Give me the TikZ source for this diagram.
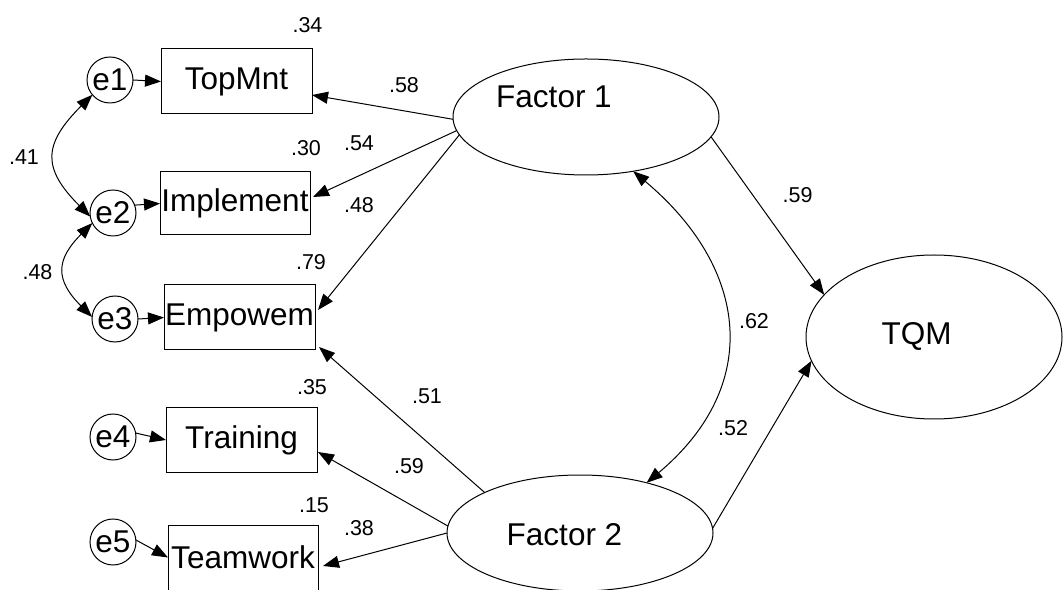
\documentclass[tikz,border=0pt]{standalone}
\usepackage{fontspec}
\setmainfont{Liberation Sans}
\usetikzlibrary{shapes.geometric,arrows.meta,calc}
\newcommand\bigfnt{\fontsize{31.5}{37}\selectfont}
\newcommand\lblfnt{\fontsize{21.5}{25}\selectfont}
\begin{document}
\begin{tikzpicture}[x=1pt,y=1pt,
  every node/.style={inner sep=0pt,outer sep=0pt},
  obs/.style={draw,line width=1pt,rectangle,minimum width=151pt,minimum height=65pt,font=\bigfnt},
  err/.style={draw,line width=1pt,circle,minimum size=46pt,font=\bigfnt},
  lat/.style={draw,line width=1pt,ellipse,minimum width=266pt,minimum height=116pt},
  ttl/.style={anchor=base,font=\bigfnt},
  lbl/.style={font=\lblfnt},
  arr/.style={line width=1pt,-{Triangle[length=16pt,width=12pt]}},
  dbl/.style={line width=1pt,{Triangle[length=16pt,width=12pt]}-{Triangle[length=16pt,width=12pt]}}
]
\useasboundingbox (0,0) rectangle (1064,589);
\fill[white] (0,0) rectangle (1064,589);
\clip (0,0) rectangle (1064,589);

% observed variables
\node[obs] (top) at (236.5,507.5) {TopMnt};
\node[obs,minimum width=150pt,minimum height=63pt] (imp) at (235,385.5) {Implement};
\node[obs] (emp) at (239.5,271.5) {Empowem};
\node[obs,minimum height=64pt] (trn) at (241.5,149) {Training};
\node[obs,minimum width=150pt] (tmw) at (243,31.5) {Teamwork};

% errors
\node[err] (e1) at (110,509) {e1};
\node[err] (e2) at (113,376) {e2};
\node[err] (e3) at (115,270) {e3};
\node[err] (e4) at (113,152) {e4};
\node[err] (e5) at (113,47) {e5};

% latent variables
\node[lat] (f1) at (586,472) {};
\node[lat] (f2) at (580,56) {};
\node[lat,minimum width=256pt,minimum height=164pt] (tqm) at (934,252) {};
\node[ttl] (f1t) at (554,481) {Factor 1};
\node[ttl] (f2t) at (564.5,44) {Factor 2};
\node[ttl] (tqmt) at (916.5,244) {TQM};

% loadings
\draw[arr] (f1.181) -- ($(top.east)+(0,-13.5)$);
\draw[arr] (f1.186) -- ($(imp.east)+(3,6.5)$);
\draw[arr] (f1.188) -- ($(emp.east)+(3,7.5)$);
\draw[arr] (f2.157) -- ($(emp.south east)+(4,3)$);
\draw[arr] (f2.177) -- ($(trn.east)+(1,-12)$);
\draw[arr] (f2.180) -- ($(tmw.east)+(5,-8.5)$);
\draw[arr] (f1.351) -- (tqm.159);
\draw[arr] (f2.2) -- (tqm.191);

% error paths
\draw[arr] (e1.east) -- (top.west);
\draw[arr] (e2.20) -- (imp.west);
\draw[arr] (e3.east) -- (emp.west);
\draw[arr] (e4.10) -- (trn.west);
\draw[arr] (e5.5) -- (tmw.west);

% covariances
\draw[dbl] (e1.220) to[out=225,in=135,looseness=1.45] (e2.189);
\draw[dbl] (e2.206) to[out=225,in=135,looseness=1.42] (e3.175);
\draw[dbl] (f1.311) to[out=-40,in=40,looseness=1.24] (f2.37);

% labels
\node[lbl] (l1) at (307.5,563.5) {.34};
\node[lbl] (l2) at (306,441) {.30};
\node[lbl] (l3) at (24,432) {.41};
\node[lbl] (l4) at (37.5,317) {.48};
\node[lbl] (l5) at (311,326.5) {.79};
\node[lbl] (l6) at (312,201.5) {.35};
\node[lbl] (l7) at (314,83.5) {.15};
\node[lbl] (l8) at (404,504) {.58};
\node[lbl] (l9) at (359,445.5) {.54};
\node[lbl] (l10) at (359,384) {.48};
\node[lbl] (l11) at (427,192.5) {.51};
\node[lbl] (l12) at (409,122.5) {.59};
\node[lbl] (l13) at (359,60.5) {.38};
\node[lbl] (l14) at (754,267.5) {.62};
\node[lbl] (l15) at (733,160.5) {.52};
\node[lbl] (l16) at (797.5,394) {.59};
\end{tikzpicture}
\end{document}
